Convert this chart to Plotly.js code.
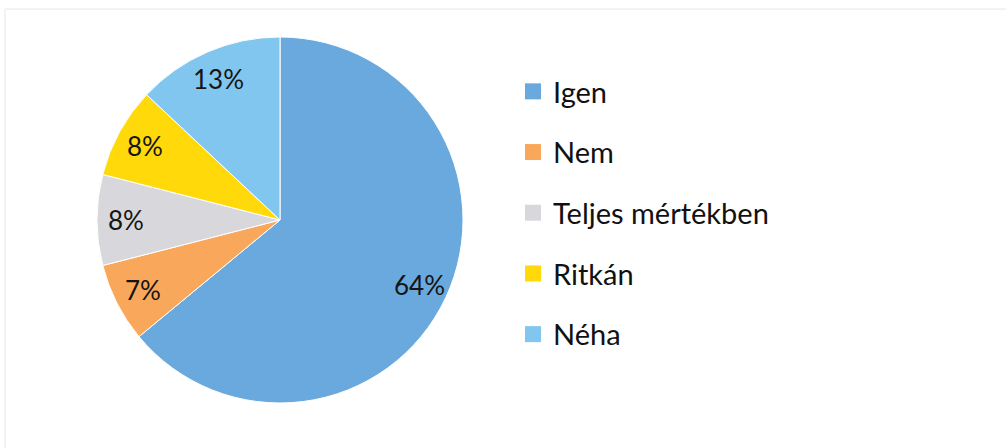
<!DOCTYPE html>
<html><head><meta charset="utf-8">
<script src="https://cdn.plot.ly/plotly-3.0.1.min.js"></script>
<style>html,body{margin:0;padding:0;background:#fff}</style>
</head><body><div id="chart" style="width:1006px;height:448px"></div>
<script>
const categories = ["Igen", "Nem", "Teljes mértékben", "Ritkán", "Néha"];
const values = [64, 7, 8, 8, 13];
const colors = ["#6aa9dd", "#f9a85b", "#d8d8dc", "#ffd90a", "#80c6ef"];

const W = 1006, H = 448;
const cx = 280, cy = 220, r = 183;
const labelFactor = 0.84;
const FONT = "Lato, 'Open Sans', sans-serif";

const traces = [{
  type: "pie",
  labels: categories,
  values: values,
  sort: false,
  direction: "clockwise",
  rotation: 0,
  marker: {colors: colors, line: {color: "#ffffff", width: 1}},
  textinfo: "none",
  showlegend: false,
  hoverinfo: "label+percent",
  domain: {x: [(cx - r) / W, (cx + r) / W], y: [(H - cy - r) / H, (H - cy + r) / H]}
}];
categories.forEach((c, i) => {
  traces.push({
    type: "scatter", mode: "markers", x: [null], y: [null], name: c,
    legendgroup: "g" + i,
    marker: {symbol: "square", size: 16, color: colors[i]},
    hoverinfo: "skip"
  });
});

// percentage labels placed at the middle angle of each slice (computed from the values)
const total = values.reduce((a, b) => a + b, 0);
let cum = 0;
const annotations = values.map(v => {
  const mid = (cum + v / 2) / total * 2 * Math.PI;
  cum += v;
  const px = cx + labelFactor * r * Math.sin(mid);
  const py = cy - labelFactor * r * Math.cos(mid);
  return {
    xref: "paper", yref: "paper", x: px / W, y: 1 - py / H,
    xanchor: "center", yanchor: "middle", showarrow: false,
    text: Math.round(v / total * 100) + "%",
    font: {family: FONT, size: 26, color: "#151515"}
  };
});

const layout = {
  width: W, height: H,
  margin: {l: 0, r: 0, t: 0, b: 0},
  paper_bgcolor: "#ffffff", plot_bgcolor: "rgba(0,0,0,0)",
  xaxis: {visible: false, domain: [0.9, 1]},
  yaxis: {visible: false, domain: [0.9, 1]},
  showlegend: true,
  legend: {
    x: 513 / W, y: 1 - 66 / H, xanchor: "left", yanchor: "top",
    font: {family: FONT, size: 29, color: "#111111"},
    tracegroupgap: 20, itemwidth: 30,
    bgcolor: "rgba(0,0,0,0)"
  },
  annotations: annotations,
  shapes: [{
    type: "rect", xref: "paper", yref: "paper",
    x0: 5 / W, x1: 1.01, y0: -0.01, y1: 1 - 9 / H,
    line: {color: "#e6e6e6", width: 1}
  }]
};
Plotly.newPlot("chart", traces, layout, {displayModeBar: false, staticPlot: true});
</script></body></html>
